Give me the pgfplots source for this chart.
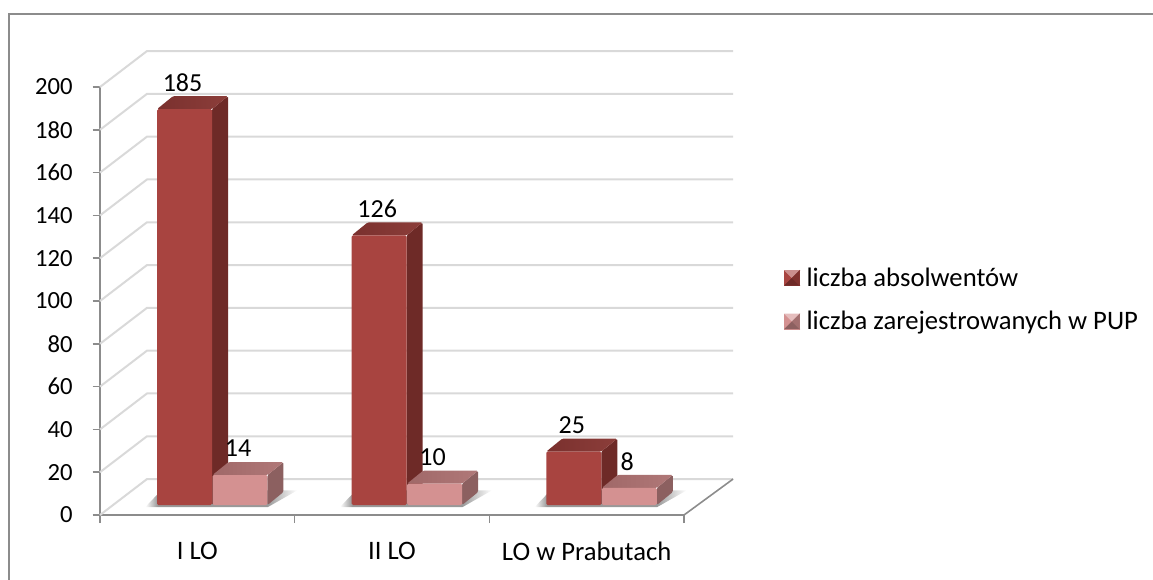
\documentclass[border=0pt]{standalone}
\usepackage{fontspec}
\setmainfont{Carlito}
\usepackage{pgfplots}
\pgfplotsset{compat=1.18}

\definecolor{barDark}{RGB}{168,68,64}
\definecolor{barDarkSide}{RGB}{110,42,39}
\definecolor{barDarkTopA}{RGB}{122,48,46}
\definecolor{barDarkTopB}{RGB}{140,62,58}
\definecolor{barLight}{RGB}{212,145,145}
\definecolor{barLightSide}{RGB}{140,96,96}
\definecolor{barLightTopA}{RGB}{160,104,104}
\definecolor{barLightTopB}{RGB}{176,120,120}
\definecolor{wallGrey}{RGB}{217,217,217}
\definecolor{axisGrey}{RGB}{140,140,140}

% 1 px of the reference = 0.75pt
\pgfdeclarehorizontalshading{floorfade}{100bp}{
  color(0bp)=(white); color(25bp)=(white); color(29bp)=(gray!80); color(65bp)=(gray!80); color(75bp)=(white); color(100bp)=(white)}

% the 3-D bar, drawn from the top centre of its front face; \barval is the plotted value
\newcommand{\boxbar}[4]{%
  \pgfmathsetlengthmacro{\hh}{\barval*1.605pt}%
  \pgfmathsetlengthmacro{\hb}{9.75pt-\hh}%
  \path[draw=none,fill=#2,rounded corners=1pt] (20.6pt,0pt) -- (32.6pt,9.75pt) -- (32.6pt,\hb) -- (20.6pt,-\hh) -- cycle;
  \path[draw=none,left color=#3,right color=#4,rounded corners=1pt] (-20.6pt,0pt) -- (-8.6pt,9.75pt) -- (32.6pt,9.75pt) -- (20.6pt,0pt) -- cycle;
  \path[draw=none,fill=#1,rounded corners=1pt] (-20.6pt,-\hh) rectangle (20.6pt,0pt);
}
\pgfdeclareplotmark{boxdark}{\boxbar{barDark}{barDarkSide}{barDarkTopA}{barDarkTopB}}
\pgfdeclareplotmark{boxlight}{\boxbar{barLight}{barLightSide}{barLightTopA}{barLightTopB}}
\pgfdeclareplotmark{floorshadow}{%
  \path[draw=none,shading=floorfade] (-50pt,-1.5pt) -- (-38pt,11pt) -- (64pt,11pt) -- (42pt,-1.5pt) -- cycle;
}

\pgfplotsset{
  bevel legend/.style n args={4}{
    legend image code/.code={
      \begin{scope}[xshift=#4, yshift=-7.5pt]
      \fill[#1] (0pt,-5.6pt) rectangle (11.2pt,5.6pt);
      \fill[#2] (0pt,5.6pt) -- (11.2pt,5.6pt) -- (5.6pt,0pt) -- cycle;
      \fill[#3] (0pt,-5.6pt) -- (11.2pt,-5.6pt) -- (5.6pt,0pt) -- cycle;
      \fill[#3!70!#1] (11.2pt,-5.6pt) -- (11.2pt,5.6pt) -- (5.6pt,0pt) -- cycle;
      \end{scope}
    }
  },
  box/.style={scatter, only marks, point meta=y,
    visualization depends on={y \as \barval}, mark=#1},
  dark group/.style={xshift=-9.6pt, yshift=7.5pt},
  light group/.style={xshift=32pt, yshift=7.5pt},
  wall/.style={draw=wallGrey, line width=1.5pt, forget plot, no markers},
  value labels/.style={nodes near coords,
    nodes near coords style={font=\fontsize{19.5}{22}\selectfont, text=black, anchor=center,
      xshift=-1.5pt, yshift=20pt}}
}

\pgfplotstableread{
x absolwenci
0 185
1 126
2 25
}\tabAbsolwenci
\pgfplotstableread{
x zarejestrowani
0 14
1 10
2 8
}\tabPup

\begin{document}
\begin{tikzpicture}
  \path[use as bounding box] (0pt,0pt) rectangle (864.75pt,-434.25pt);
  \draw[axisGrey,line width=1.5pt] (6.4pt,-440pt) -- (6.4pt,-10.5pt) -- (870pt,-10.5pt);
  \begin{axis}[
    at={(75pt,-386.25pt)}, anchor=south west,
    scale only axis, width=438pt, height=321pt,
    clip=false,
    xmin=-0.5, xmax=2.5, ymin=0, ymax=200,
    axis x line*=bottom, axis y line*=left,
    axis line style={draw=axisGrey, line width=1.2pt, -},
    xtick={0,1,2}, xticklabels={I LO, II LO, LO w Prabutach},
    minor xtick={-0.5,0.5,1.5,2.5},
    ytick={0,20,...,200},
    tick align=outside,
    major x tick style={draw=none},
    minor x tick style={draw=axisGrey, line width=1.2pt},
    minor tick length=6pt,
    y tick style={draw=axisGrey, line width=1.2pt},
    major tick length=5.5pt,
    tick label style={font=\fontsize{20}{22}\selectfont},
    /pgf/number format/assume math mode=true,
    x tick label style={yshift=-11pt},
    y tick label style={font=\fontsize{18.5}{22}\selectfont, xshift=-11.5pt},
    legend style={at={(1.172,0.503)}, anchor=west, draw=none, fill=none,
      font=\fontsize{20}{22}\selectfont, row sep=13.25pt, inner sep=0pt, outer sep=0pt},
    legend cell align=left,
  ]
  % side walls, floor and back grid of the 3-D box
  \addplot[wall] coordinates {(-0.5,0) (-0.2586,16.8) (2.752,16.8)};
  \addplot[wall] coordinates {(-0.5,20) (-0.2586,36.8) (2.752,36.8)};
  \addplot[wall] coordinates {(-0.5,40) (-0.2586,56.8) (2.752,56.8)};
  \addplot[wall] coordinates {(-0.5,60) (-0.2586,76.8) (2.752,76.8)};
  \addplot[wall] coordinates {(-0.5,80) (-0.2586,96.8) (2.752,96.8)};
  \addplot[wall] coordinates {(-0.5,100) (-0.2586,116.8) (2.752,116.8)};
  \addplot[wall] coordinates {(-0.5,120) (-0.2586,136.8) (2.752,136.8)};
  \addplot[wall] coordinates {(-0.5,140) (-0.2586,156.8) (2.752,156.8)};
  \addplot[wall] coordinates {(-0.5,160) (-0.2586,176.8) (2.752,176.8)};
  \addplot[wall] coordinates {(-0.5,180) (-0.2586,196.8) (2.752,196.8)};
  \addplot[wall] coordinates {(-0.5,200) (-0.2586,216.8) (2.752,216.8)};
  \addplot[draw=axisGrey, line width=1.2pt, forget plot, no markers] coordinates {(2.5,0) (2.752,16.8)};

  % soft shadow on the floor
  \addplot[box=floorshadow, forget plot, xshift=11pt, yshift=7.5pt] coordinates {(0,0) (1,0) (2,0)};

  \addplot[box=boxdark, dark group, value labels, bevel legend={barDark}{barDark!60!white}{barDarkSide}{9.6pt}]
    table[x=x, y=absolwenci] {\tabAbsolwenci};
  \addlegendentry{\hspace{3pt}liczba absolwentów}

  \addplot[box=boxlight, light group, value labels, bevel legend={barLight}{barLight!60!white}{barLightSide}{-32pt}]
    table[x=x, y=zarejestrowani] {\tabPup};
  \addlegendentry{\hspace{3pt}liczba zarejestrowanych w PUP}
  \end{axis}
\end{tikzpicture}
\end{document}
